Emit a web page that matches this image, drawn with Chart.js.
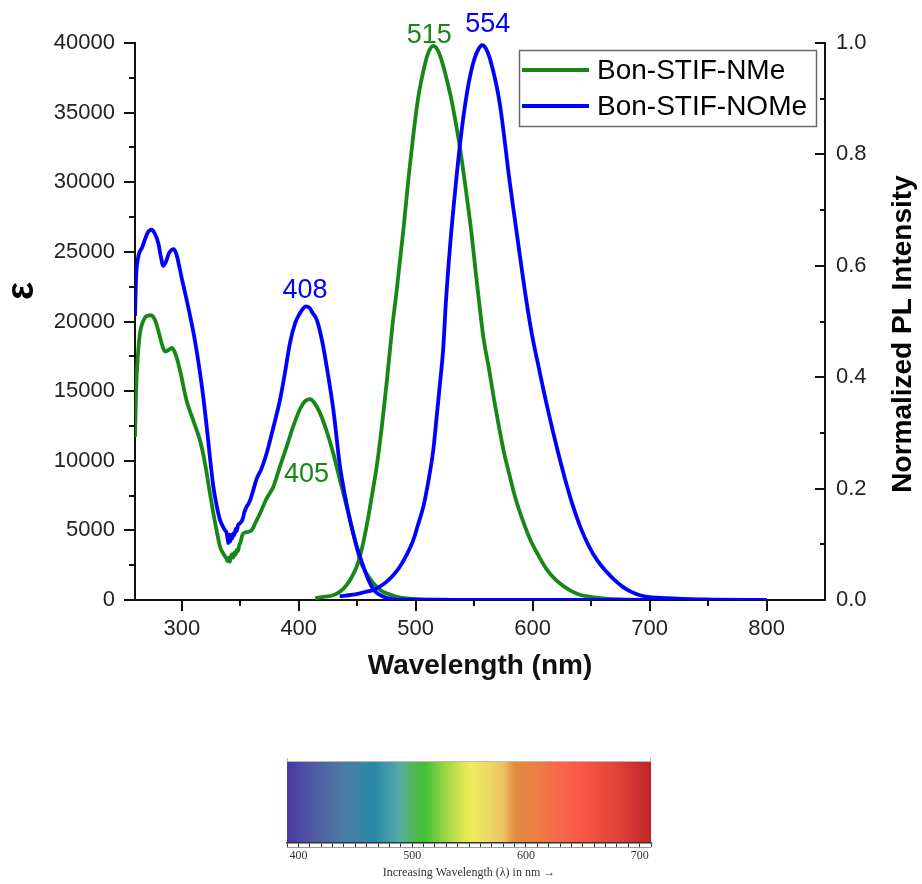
<!DOCTYPE html>
<html>
<head>
<meta charset="utf-8">
<script src="https://cdn.jsdelivr.net/npm/chart.js@4.4.1/dist/chart.umd.min.js"></script>
<style>
  html, body { margin: 0; padding: 0; background: #fff; }
  #wrap { position: relative; width: 922px; height: 884px; }
  #main { position: absolute; left: 0; top: 0; }
  #spec { position: absolute; left: 0; top: 740px; }
</style>
</head>
<body>
<div id="wrap">
  <canvas id="main" width="922" height="700"></canvas>
  <canvas id="spec" width="922" height="144"></canvas>
</div>
<script>
// absorption, left axis (epsilon)
var nmeAbsNm = [260, 261, 262.5, 264.3, 266, 268.5, 271, 273, 275.5, 278, 281, 284, 286, 288.5, 291.5, 294, 296, 299, 304, 310,
  315.6, 318.5, 321.3, 324, 327, 330, 332.7, 335, 336.5, 338, 339, 340, 341, 342, 343, 344, 345, 346, 347, 348,
  349, 350, 352, 354, 357, 360, 363, 367, 372, 378.3, 384, 389.7, 395, 401, 405, 409.7, 413, 418.2, 424, 429.5,
  435, 441, 447, 452.4, 458, 463.8, 470, 475.2, 483, 492.3, 505, 530, 600, 700, 800];
var nmeAbs = [11700, 15200, 17600, 19200, 19800, 20270, 20420, 20450, 20350, 19900, 19000, 18100, 17850, 17950, 18100, 17800, 17300, 16300, 14350, 12850,
  11450, 10400, 9100, 7700, 6230, 4900, 3830, 3400, 3200, 3000, 2800, 3050, 2750, 3100, 3300, 3050, 3400, 3250, 3600, 3500,
  3900, 4100, 4700, 4850, 4900, 5030, 5550, 6230, 7200, 8140, 9600, 11020, 12400, 13700, 14250, 14430, 14200, 13420, 12100, 10540,
  8700, 6710, 4700, 2875, 1900, 1200, 700, 480, 250, 120, 50, 15, 0, 0, 0];

var nomeAbsNm = [260, 261, 262.5, 264, 266, 268.5, 271, 274.3, 277, 280, 282, 284.2, 286.5, 289, 291.5, 293.3, 295.5, 298, 300, 305.6,
  311.3, 315.6, 318.5, 321.3, 324, 327, 330, 332.7, 335, 337, 338.4, 339.2, 339.8, 340.6, 341.4, 342.2, 343, 344, 345, 346,
  347, 348, 349.8, 352, 353.5, 355.5, 357, 359, 361.2, 364, 368, 372.6, 378, 384, 388, 392.5, 397, 401.1, 404, 406.2,
  409, 412, 415.4, 420, 423.9, 429.6, 435.3, 440, 443.8, 448, 452.4, 457, 460.9, 465, 469.5, 475, 480.9, 495, 530, 600,
  700, 800];
var nomeAbs = [20400, 23300, 24500, 25000, 25300, 25900, 26400, 26600, 26300, 25600, 24700, 24000, 24300, 24900, 25150, 25200, 24800, 23900, 23100, 21000,
  18600, 16300, 14500, 12460, 10300, 8140, 6700, 5750, 5300, 5000, 4790, 4400, 4080, 4700, 4200, 4650, 4400, 4790, 4650, 5100,
  4950, 5350, 5510, 5800, 6300, 6710, 6900, 7300, 7910, 8700, 9400, 10540, 12300, 14380, 16200, 18450, 19900, 20610, 20950, 21080,
  21000, 20600, 20130, 18600, 16770, 13660, 9580, 7300, 5750, 4300, 3110, 2000, 1200, 650, 360, 150, 50, 20, 0, 0,
  0, 0];

// photoluminescence, right axis (normalized)
var nmePlNm = [414, 420, 430, 436, 441, 445, 449.6, 454, 458, 462, 466.7, 471, 475.2, 480, 484, 489.5, 494, 498, 502, 506.6,
  510, 513, 515, 517, 520, 523, 526.5, 530.6, 534, 538, 543, 547.7, 551, 554.5, 558, 562.7, 567, 571.3, 575.5, 579.8,
  585, 591.2, 598, 605.5, 612, 619.8, 627, 634, 641, 648.3, 660, 676.8, 720, 800];
var nmePl = [0.003, 0.005, 0.009, 0.016, 0.027, 0.04, 0.06, 0.092, 0.132, 0.18, 0.24, 0.31, 0.39, 0.49, 0.56, 0.665, 0.76, 0.835, 0.9, 0.95,
  0.978, 0.992, 0.995, 0.993, 0.982, 0.963, 0.935, 0.898, 0.86, 0.81, 0.735, 0.659, 0.595, 0.53, 0.47, 0.415, 0.36, 0.31, 0.265, 0.228,
  0.185, 0.145, 0.108, 0.078, 0.055, 0.036, 0.024, 0.015, 0.009, 0.006, 0.003, 0.001, 0, 0];

var nomePlNm = [435, 445, 452.4, 458, 463.8, 470, 475.2, 481, 486.6, 492, 498, 502, 506.6, 511, 515.1, 518, 520.8, 523.5, 526, 530,
  534, 538, 542, 546, 550, 554, 557, 560, 563, 566, 569, 572, 575.5, 579.2, 583.5, 587.8, 592, 596.3, 600, 605.5,
  610, 614, 618, 622.6, 628, 634, 641, 648.3, 655, 662.6, 670, 676.8, 684, 691.1, 700, 719.6, 748, 800];
var nomePl = [0.007, 0.009, 0.012, 0.015, 0.018, 0.025, 0.033, 0.045, 0.06, 0.08, 0.108, 0.135, 0.168, 0.215, 0.27, 0.33, 0.389, 0.45, 0.54, 0.65,
  0.74, 0.82, 0.885, 0.935, 0.97, 0.99, 0.996, 0.99, 0.975, 0.952, 0.925, 0.89, 0.835, 0.77, 0.703, 0.638, 0.575, 0.515, 0.47, 0.415,
  0.37, 0.333, 0.297, 0.258, 0.215, 0.172, 0.13, 0.096, 0.072, 0.052, 0.036, 0.024, 0.015, 0.009, 0.005, 0.003, 0.001, 0];

var seriesNames = ['Bon-STIF-NMe', 'Bon-STIF-NOMe'];

// axis ticks
var xMajor = [300, 400, 500, 600, 700, 800];
var xMinor = [350, 450, 550, 650, 750];
var yMajor = [0, 5000, 10000, 15000, 20000, 25000, 30000, 35000, 40000];
var yMinor = [2500, 7500, 12500, 17500, 22500, 27500, 32500, 37500];
var y1Major = [0, 0.2, 0.4, 0.6, 0.8, 1.0];
var y1Minor = [0.1, 0.3, 0.5, 0.7, 0.9];

// peak labels: text, wavelength, value, axis
var peakText = ['515', '554', '408', '405'];
var peakNm = [515, 554, 408, 405];
var peakVal = [1.0, 1.0, 21080, 14430];
var peakAxis = ['y1', 'y1', 'y', 'y'];

// visible spectrum strip
var specLabels = [400, 500, 600, 700];
var specNm = [390, 419, 441, 467, 489, 505, 511, 533, 551, 568, 581, 590, 612, 630, 647, 682, 710];
var specColors = ['#4b37a3', '#5062a2', '#4a7ea6', '#2a88aa', '#56aaa6', '#4cbc40', '#44c03a', '#aed848', '#eeec58', '#ecd868',
  '#eac060', '#e08c3e', '#ee7a46', '#f7674a', '#fc5846', '#e04038', '#bf2429'];

var GREEN = '#168816';
var BLUE = '#0000ff';
var SANS = "'Liberation Sans', Arial, sans-serif";
var SERIF = "'Liberation Serif', 'Times New Roman', serif";
Chart.defaults.font.family = SANS;

function pts(xs, ys) {
  var out = [];
  for (var i = 0; i < xs.length; i++) out.push({ x: xs[i], y: ys[i] });
  return out;
}

var decor = {
  id: 'decor',
  afterDraw: function(chart) {
    var ctx = chart.ctx, a = chart.chartArea;
    var x = chart.scales.x, y = chart.scales.y, y1 = chart.scales.y1;
    ctx.save();

    // minor ticks + inward ticks on the right axis
    ctx.strokeStyle = '#111';
    ctx.lineWidth = 2;
    ctx.beginPath();
    xMinor.forEach(function(v) {
      var px = Math.round(x.getPixelForValue(v));
      ctx.moveTo(px, a.bottom); ctx.lineTo(px, a.bottom + 6);
    });
    yMinor.forEach(function(v) {
      var py = Math.round(y.getPixelForValue(v));
      ctx.moveTo(a.left, py); ctx.lineTo(a.left - 6, py);
    });
    y1Major.forEach(function(v) {
      var py = Math.round(y1.getPixelForValue(v));
      ctx.moveTo(a.right, py); ctx.lineTo(a.right - 10, py);
    });
    y1Minor.forEach(function(v) {
      var py = Math.round(y1.getPixelForValue(v));
      ctx.moveTo(a.right, py); ctx.lineTo(a.right - 5, py);
    });
    ctx.stroke();

    // y titles, both read bottom to top
    ctx.fillStyle = '#000';
    ctx.textAlign = 'center';
    ctx.textBaseline = 'middle';
    ctx.save();
    ctx.translate(23, 291);
    ctx.rotate(-Math.PI / 2);
    ctx.font = 'bold 38px ' + SANS;
    ctx.fillText('\u03b5', 0, 0);
    ctx.restore();
    ctx.save();
    ctx.translate(903, 334);
    ctx.rotate(-Math.PI / 2);
    ctx.font = 'bold 28px ' + SANS;
    ctx.fillText('Normalized PL Intensity', 0, 0);
    ctx.restore();

    // peak labels
    var offs = [[-4, 0], [9, -11], [-3, -8], [2, 83]];
    ctx.font = '27px ' + SANS;
    ctx.textBaseline = 'alphabetic';
    for (var i = 0; i < peakText.length; i++) {
      var sc = chart.scales[peakAxis[i]];
      ctx.fillStyle = (i === 1 || i === 2) ? BLUE : GREEN;
      ctx.fillText(peakText[i], x.getPixelForValue(peakNm[i]) + offs[i][0], sc.getPixelForValue(peakVal[i]) + offs[i][1]);
    }

    // legend box
    ctx.strokeStyle = '#6a6a6a';
    ctx.lineWidth = 1.5;
    ctx.strokeRect(519.5, 50.5, 297, 76);
    var cols = [GREEN, BLUE];
    ctx.font = '28px ' + SANS;
    ctx.textAlign = 'left';
    ctx.textBaseline = 'middle';
    for (var k = 0; k < 2; k++) {
      var ly = 70 + k * 36;
      ctx.strokeStyle = cols[k];
      ctx.lineWidth = 4;
      ctx.beginPath();
      ctx.moveTo(522, ly); ctx.lineTo(589, ly);
      ctx.stroke();
      ctx.fillStyle = '#000';
      ctx.fillText(seriesNames[k], 597, ly + 1);
    }
    ctx.restore();
  }
};

new Chart(document.getElementById('main'), {
  type: 'line',
  data: {
    datasets: [
      { label: seriesNames[1] + ' PL', data: pts(nomePlNm, nomePl), yAxisID: 'y1', borderColor: BLUE },
      { label: seriesNames[1] + ' abs', data: pts(nomeAbsNm, nomeAbs), yAxisID: 'y', borderColor: BLUE },
      { label: seriesNames[0] + ' PL', data: pts(nmePlNm, nmePl), yAxisID: 'y1', borderColor: GREEN },
      { label: seriesNames[0] + ' abs', data: pts(nmeAbsNm, nmeAbs), yAxisID: 'y', borderColor: GREEN }
    ]
  },
  options: {
    responsive: false,
    animation: false,
    layout: { padding: { top: 43, left: 0, right: 0, bottom: 0 } },
    elements: {
      point: { radius: 0 },
      line: { borderWidth: 3.8, cubicInterpolationMode: 'monotone', borderJoinStyle: 'round', fill: false }
    },
    plugins: { legend: { display: false }, tooltip: { enabled: false } },
    scales: {
      x: {
        type: 'linear', min: 260, max: 850,
        afterBuildTicks: function(s) { s.ticks = xMajor.map(function(v) { return { value: v }; }); },
        afterFit: function(s) { s.height = 100; },
        grid: { drawOnChartArea: false, color: '#111', lineWidth: 2, tickLength: 11 },
        border: { color: '#111', width: 2 },
        ticks: { font: { size: 22 }, color: '#222', padding: 5, maxRotation: 0, autoSkip: false,
          callback: function(v) { return String(v); } },
        title: { display: true, text: 'Wavelength (nm)', color: '#111', font: { size: 28, weight: 'bold' },
          padding: { top: 0, bottom: 17 } }
      },
      y: {
        position: 'left', min: 0, max: 40000,
        afterBuildTicks: function(s) { s.ticks = yMajor.map(function(v) { return { value: v }; }); },
        afterFit: function(s) { s.width = 135; },
        grid: { drawOnChartArea: false, color: '#111', lineWidth: 2, tickLength: 11 },
        border: { color: '#111', width: 2 },
        ticks: { font: { size: 22 }, color: '#222', padding: 9, autoSkip: false,
          callback: function(v) { return String(v); } }
      },
      y1: {
        position: 'right', min: 0, max: 1,
        afterBuildTicks: function(s) { s.ticks = y1Major.map(function(v) { return { value: v }; }); },
        afterFit: function(s) { s.width = 97; },
        grid: { drawOnChartArea: false, drawTicks: false },
        border: { color: '#111', width: 2 },
        ticks: { font: { size: 22 }, color: '#222', padding: 11, autoSkip: false,
          callback: function(v) { return v.toFixed(1); } }
      }
    }
  },
  plugins: [decor]
});

var spectrumFill = {
  id: 'spectrumFill',
  beforeDraw: function(chart) {
    var ctx = chart.ctx, a = chart.chartArea, x = chart.scales.x;
    var w = a.right - a.left;
    var g = ctx.createLinearGradient(a.left, 0, a.right, 0);
    for (var i = 0; i < specNm.length; i++) {
      var t = (x.getPixelForValue(specNm[i]) - a.left) / w;
      g.addColorStop(Math.min(1, Math.max(0, t)), specColors[i]);
    }
    ctx.save();
    ctx.fillStyle = g;
    ctx.fillRect(a.left, a.top, w, a.bottom - a.top);
    // thin frame line on top with end marks
    ctx.strokeStyle = '#b8b8b8';
    ctx.lineWidth = 1;
    ctx.beginPath();
    ctx.moveTo(a.left, a.top - 0.5); ctx.lineTo(a.right, a.top - 0.5);
    ctx.moveTo(a.left + 0.5, a.top - 4); ctx.lineTo(a.left + 0.5, a.top);
    ctx.moveTo(a.right - 0.5, a.top - 4); ctx.lineTo(a.right - 0.5, a.top);
    ctx.stroke();
    ctx.restore();
  },
  afterDraw: function(chart) {
    var ctx = chart.ctx, a = chart.chartArea;
    ctx.save();
    ctx.strokeStyle = '#9a9a9a';
    ctx.lineWidth = 1;
    ctx.beginPath();
    ctx.moveTo(a.left, a.bottom + 4.5); ctx.lineTo(a.right, a.bottom + 4.5);
    ctx.stroke();
    ctx.restore();
  }
};

new Chart(document.getElementById('spec'), {
  type: 'scatter',
  data: { datasets: [] },
  options: {
    responsive: false,
    animation: false,
    layout: { padding: { top: 22, left: 287, right: 271, bottom: 0 } },
    plugins: { legend: { display: false }, tooltip: { enabled: false } },
    scales: {
      x: {
        type: 'linear', min: 390, max: 710,
        afterBuildTicks: function(s) {
          var t = [];
          for (var v = 390; v <= 710; v += 10) t.push({ value: v });
          s.ticks = t;
        },
        afterFit: function(s) { s.height = 41; },
        grid: { drawOnChartArea: false, color: '#333', lineWidth: 1, tickLength: 4 },
        border: { color: '#333', width: 1.5 },
        ticks: { font: { family: SERIF, size: 12 }, color: '#333', padding: 2, maxRotation: 0, autoSkip: false,
          callback: function(v) { return specLabels.indexOf(v) >= 0 ? String(v) : ''; } },
        title: { display: true, text: 'Increasing Wavelength (\u03bb) in nm \u2192', color: '#333',
          font: { family: SERIF, size: 12 }, padding: { top: 0, bottom: 4 } }
      },
      y: { display: false, min: 0, max: 1 }
    }
  },
  plugins: [spectrumFill]
});
</script>
</body>
</html>
